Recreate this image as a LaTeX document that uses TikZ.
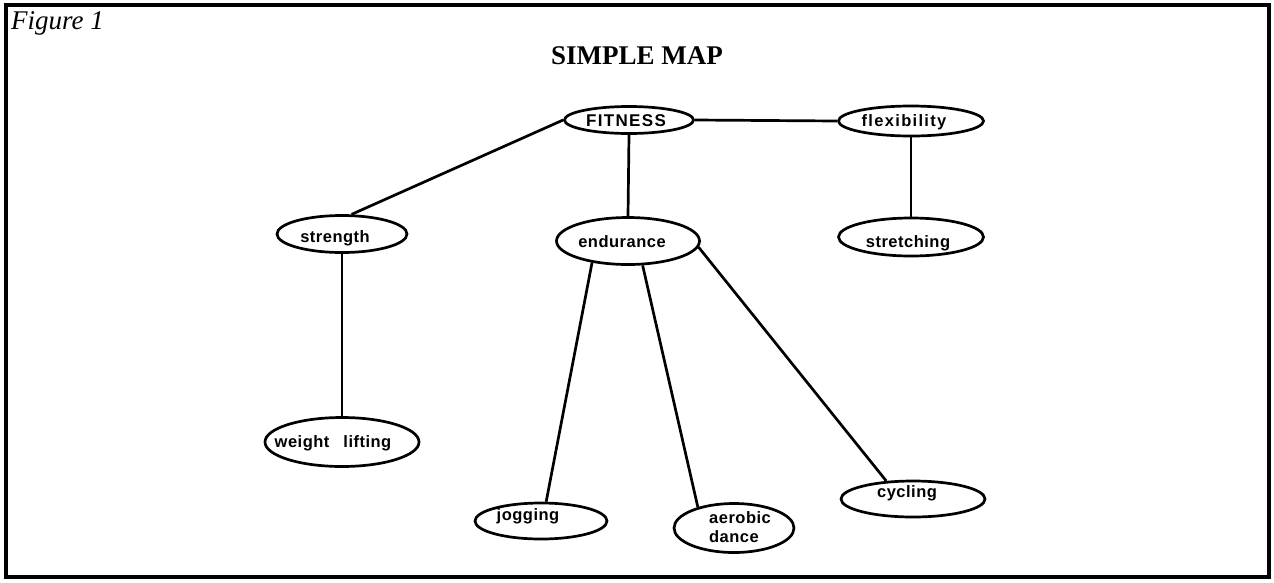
\documentclass[tikz,border=0pt]{standalone}
\usepackage{fontspec}
\setmainfont{Liberation Serif}
\newfontfamily\labfam[LetterSpace=3]{Liberation Sans}
\newfontfamily\labwide[LetterSpace=8]{Liberation Sans}
\usetikzlibrary{shapes.geometric}
\tikzset{
  bub/.style={ellipse, draw, line width=2.7pt, inner sep=0pt},
  lab/.style={font=\labfam\bfseries\fontsize{16.5}{19}\selectfont, inner sep=0pt, align=left},
  link/.style={line width=2.7pt},
}
\begin{document}
\begin{tikzpicture}[x=1pt,y=-1pt]
\useasboundingbox (0,0) rectangle (1274,582);
\draw[line width=3.5pt] (6,5) rectangle (1269,577);
\node[anchor=base west, inner sep=0pt, font=\itshape\fontsize{27}{30}\selectfont] (fig) at (11,29) {Figure 1};
\node[inner sep=0pt, font=\bfseries\fontsize{27}{30}\selectfont] (title) at (637,56) {SIMPLE MAP};

\node[bub, minimum width=129pt, minimum height=27pt] (fit) at (629,120) {};
\node[bub, minimum width=145pt, minimum height=30pt] (flex) at (911,121) {};
\node[bub, minimum width=130pt, minimum height=37pt] (str) at (342,234) {};
\node[bub, minimum width=143pt, minimum height=47pt] (end) at (628,241) {};
\node[bub, minimum width=145pt, minimum height=38pt] (stre) at (911,237) {};
\node[bub, minimum width=154pt, minimum height=49pt] (wl) at (342,442) {};
\node[bub, minimum width=132pt, minimum height=36pt] (jog) at (541,521) {};
\node[bub, minimum width=120pt, minimum height=49pt] (aer) at (734,528) {};
\node[bub, minimum width=144pt, minimum height=36pt] (cyc) at (913,499) {};

\node[lab, font=\labwide\bfseries\fontsize{17}{19}\selectfont] (tfit) at (626,121) {FITNESS};
\node[lab, font=\labwide\bfseries\fontsize{16.5}{19}\selectfont] (tflex) at (904,122) {flexibility};
\node[lab] (tstr) at (335,238) {strength};
\node[lab] (tend) at (622,242) {endurance};
\node[lab] (tstre) at (908,243) {stretching};
\node[lab] (twl) at (333,443) {weight\hspace{14pt}lifting};
\node[lab] (tjog) at (528,516) {jogging};
\node[lab] (taer) at (740,527) {aerobic\\dance};
\node[lab] (tcyc) at (907,493) {cycling};

\draw[link] (fit.west) -- (str.64);
\draw[link] (fit.east) -- (flex.west);
\draw[link] (fit.south) -- (end.north);
\draw[link] (flex.south) -- (stre.north);
\draw[link] (str.south) -- (wl.north);
\draw[link] (end.211) -- (jog.75);
\draw[link] (end.301) -- (aer.150);
\draw[link] (end.355) -- (cyc.146);
\end{tikzpicture}
\end{document}
